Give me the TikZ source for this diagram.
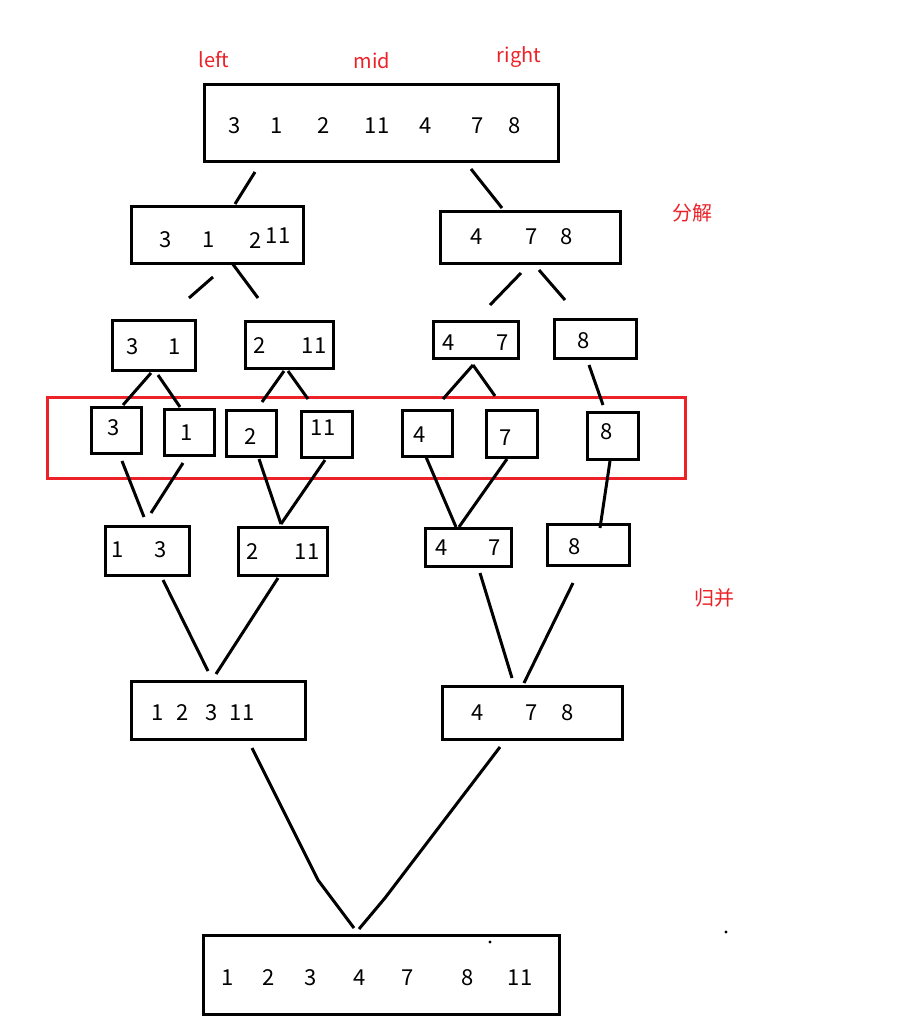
\documentclass[tikz,border=0pt]{standalone}
\usepackage{fontspec}
\setmainfont{Noto Sans CJK SC}
\definecolor{redmark}{RGB}{236,34,40}
\tikzset{
  box/.style={draw=black, line width=3pt, anchor=north west, inner sep=0pt},
  conn/.style={draw=black, line width=3pt},
  num/.style={inner sep=0pt, font=\fontsize{22}{26}\selectfont},
  lbl/.style={inner sep=0pt, text=redmark, font=\fontsize{20}{24}\selectfont},
  redframe/.style={draw=redmark, line width=2.5pt, anchor=north west, inner sep=0pt}
}
\newcommand\mkbox[5]{\node[box, minimum width=#4-#2, minimum height=#5-#3] (#1) at (#2,#3) {};}
\newcommand\conn[5]{\coordinate (#5a) at (#1,#2); \coordinate (#5b) at (#3,#4); \draw[conn] (#5a) -- (#5b);}
\begin{document}
\begin{tikzpicture}[x=1pt,y=-1pt]
\fill[white] (0,0) rectangle (899,1033);
\useasboundingbox (0,0) rectangle (899,1033);

% red labels
\node[lbl, anchor=base] (lleft) at (214,67) {left};
\node[lbl, anchor=base] (lmid) at (372,69) {mid};
\node[lbl, anchor=base] (lright) at (519,63) {right};
\node[lbl] (lsplit) at (692,213) {分解};
\node[lbl] (lmerge) at (714,598) {归并};

% red frame
\node[redframe, minimum width=638, minimum height=81] (frame) at (46,396) {};

% boxes
\mkbox{top}{203}{83}{557}{160}
\mkbox{lone}{130}{205}{302}{262}
\mkbox{rone}{439}{210}{619}{262}
\mkbox{atl}{111}{319}{194}{369}
\mkbox{atm}{244}{320}{332}{367}
\mkbox{atr}{432}{320}{517}{357}
\mkbox{ate}{553}{318}{635}{357}
\mkbox{sa}{90}{406}{140}{452}
\mkbox{sb}{163}{408}{213}{454}
\mkbox{sc}{225}{409}{275}{455}
\mkbox{sd}{300}{410}{351}{456}
\mkbox{se}{401}{409}{451}{455}
\mkbox{sf}{485}{409}{536}{456}
\mkbox{sg}{586}{411}{637}{458}
\mkbox{ma}{104}{525}{188}{574}
\mkbox{mb}{237}{526}{326}{574}
\mkbox{mc}{424}{527}{510}{565}
\mkbox{md}{546}{523}{628}{564}
\mkbox{na}{130}{680}{304}{738}
\mkbox{nb}{441}{685}{621}{738}
\mkbox{bot}{202}{934}{558}{1013}

% numbers
\node[num] (t1) at (235,126) {3};
\node[num] (t2) at (277,126) {1};
\node[num] (t3) at (324,126) {2};
\node[num] (t4) at (377,126) {11};
\node[num] (t5) at (426,126) {4};
\node[num] (t6) at (478,126) {7};
\node[num] (t7) at (515,126) {8};

\node[num] (l1) at (166,240) {3};
\node[num] (l2) at (209,240) {1};
\node[num] (l3) at (256,241) {2};
\node[num] (l4) at (278,236) {11};
\node[num] (r1) at (477,237) {4};
\node[num] (r2) at (532,237) {7};
\node[num] (r3) at (567,237) {8};

\node[num] (a1) at (133,347) {3};
\node[num] (a2) at (175,347) {1};
\node[num] (b1) at (260,346) {2};
\node[num] (b2) at (314,346) {11};
\node[num] (c1) at (449,343) {4};
\node[num] (c2) at (503,343) {7};
\node[num] (d1) at (584,341) {8};

\node[num] (sa1) at (114,428) {3};
\node[num] (sb1) at (187,433) {1};
\node[num] (sc1) at (251,437) {2};
\node[num] (sd1) at (323,428) {11};
\node[num] (se1) at (420,435) {4};
\node[num] (sf1) at (506,438) {7};
\node[num] (sg1) at (607,432) {8};

\node[num] (ma1) at (118,550) {1};
\node[num] (ma2) at (161,550) {3};
\node[num] (mb1) at (253,552) {2};
\node[num] (mb2) at (307,552) {11};
\node[num] (mc1) at (442,548) {4};
\node[num] (mc2) at (495,548) {7};
\node[num] (md1) at (575,547) {8};

\node[num] (na1) at (158,713) {1};
\node[num] (na2) at (183,713) {2};
\node[num] (na3) at (212,713) {3};
\node[num] (na4) at (242,713) {11};
\node[num] (nb1) at (478,713) {4};
\node[num] (nb2) at (532,713) {7};
\node[num] (nb3) at (568,713) {8};

\node[num] (bo1) at (228,978) {1};
\node[num] (bo2) at (269,978) {2};
\node[num] (bo3) at (311,978) {3};
\node[num] (bo4) at (360,978) {4};
\node[num] (bo5) at (408,978) {7};
\node[num] (bo6) at (468,978) {8};
\node[num] (bo7) at (520,978) {11};

% connectors: split
\conn{255}{172}{235}{204}{ka}
\conn{471}{169}{502}{208}{kb}
\conn{213}{277}{189}{298}{kc}
\conn{232}{263}{258}{298}{kd}
\conn{521}{273}{490}{305}{ke}
\conn{539}{270}{565}{300}{kf}
\conn{151}{373}{123}{405}{kg}
\conn{158}{375}{180}{407}{kh}
\conn{284}{371}{262}{402}{ki}
\conn{288}{371}{308}{399}{kj}
\conn{473}{365}{443}{399}{kk}
\conn{473}{365}{495}{396}{kl}
\conn{589}{365}{603}{405}{km}
% connectors: merge
\conn{122}{461}{144}{517}{pa}
\conn{183}{463}{151}{513}{pb}
\conn{259}{459}{281}{524}{pc}
\conn{325}{460}{281}{524}{pd}
\conn{426}{457}{456}{527}{pe}
\conn{507}{459}{459}{527}{pf}
\conn{610}{461}{600}{528}{pg}
\conn{163}{580}{208}{671}{ph}
\conn{278}{578}{216}{674}{pi}
\conn{480}{573}{512}{678}{pj}
\conn{573}{583}{524}{683}{pk}
\coordinate (qa) at (252,748);
\coordinate (qb) at (318,880);
\coordinate (qc) at (354,928);
\coordinate (qd) at (500,747);
\coordinate (qe) at (385,898);
\coordinate (qf) at (359,929);
\draw[conn] (qa) -- (qb) -- (qc);
\draw[conn] (qd) -- (qe) -- (qf);

% stray dots
\fill (490,942) circle (1.6);
\fill (726,932) circle (1.6);
\end{tikzpicture}
\end{document}
